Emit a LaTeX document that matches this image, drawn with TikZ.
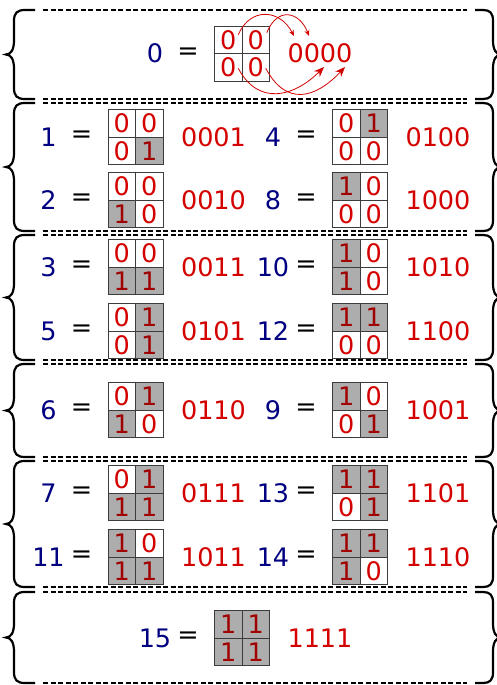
\documentclass[tikz,border=0pt]{standalone}
\usepackage{fontspec}
\setmainfont{DejaVu Sans}
\usetikzlibrary{arrows.meta}
\definecolor{num-blue}{HTML}{000080}
\definecolor{bit-red}{HTML}{D40000}
\definecolor{bit-dark}{HTML}{A00000}
\definecolor{cell-gray}{HTML}{ADADAD}
\definecolor{grid-line}{HTML}{3C3C3C}

\tikzset{
  digits/.style={font=\fontsize{25.5}{27}\selectfont, inner sep=0pt},
  bit0/.style={digits, draw=grid-line, line width=0.9pt, minimum size=27.5pt, text=bit-red},
  bit1/.style={bit0, fill=cell-gray, text=bit-dark},
  grouprule/.style={line width=2pt, dash pattern=on 5pt off 2.5pt},
  bracket/.style={line width=2.2pt},
  bitarrow/.style={-{Stealth[length=6pt,width=5pt]}, bit-red, line width=0.8pt}
}

% number = 2x2 grid  binary
\newcommand{\kmap}[7]{%
  \node[digits, text=num-blue] (n#1) at (#2-87,#3) {#1};
  \node[digits] (eq#1) at (#2-54,#3) {=};
  \node[bit#4] (g#1-tl) at (#2-13.75,#3-13.75) {#4};
  \node[bit#5] (g#1-tr) at (#2+13.75,#3-13.75) {#5};
  \node[bit#6] (g#1-bl) at (#2-13.75,#3+13.75) {#6};
  \node[bit#7] (g#1-br) at (#2+13.75,#3+13.75) {#7};
  \node[digits, text=bit-red] (bin#1) at (#2+78,#3) {#4#5#6#7};
}

\begin{document}
\begin{tikzpicture}[x=1pt, y=-1pt]
  \useasboundingbox (0,0) rectangle (496,685);

  % groups: dashed rules and braces
  \foreach \ya/\yb in {10/99, 103/231, 235/360, 364/457, 461/587, 592/683} {
    \pgfmathsetmacro\ym{(\ya+\yb)/2}
    \draw[grouprule] (43,\ya) -- (467,\ya);
    \draw[grouprule] (43,\yb) -- (467,\yb);
    \draw[bracket] (35,\ya) -- (25,\ya) .. controls (17,\ya) and (14,\ya+3) .. (14,\ya+11)
      -- (14,\ym-14) .. controls (14,\ym-5) and (11,\ym) .. (6,\ym)
      .. controls (11,\ym) and (14,\ym+5) .. (14,\ym+14)
      -- (14,\yb-11) .. controls (14,\yb-3) and (17,\yb) .. (25,\yb) -- (35,\yb);
    \draw[bracket] (475,\ya) -- (483,\ya) .. controls (490,\ya) and (493,\ya+3) .. (493,\ya+11)
      -- (493,\ym-14) .. controls (493,\ym-5) and (496,\ym) .. (501,\ym)
      .. controls (496,\ym) and (493,\ym+5) .. (493,\ym+14)
      -- (493,\yb-11) .. controls (493,\yb-3) and (490,\yb) .. (483,\yb) -- (475,\yb);
  }

  \kmap{0}{242}{53.5}{0}{0}{0}{0}

  \kmap{1}{135.5}{137}{0}{0}{0}{1}
  \kmap{4}{360}{137}{0}{1}{0}{0}
  \kmap{2}{135.5}{200}{0}{0}{1}{0}
  \kmap{8}{360}{200}{1}{0}{0}{0}

  \kmap{3}{135.5}{267}{0}{0}{1}{1}
  \kmap{10}{360}{267}{1}{0}{1}{0}
  \kmap{5}{135.5}{331}{0}{1}{0}{1}
  \kmap{12}{360}{331}{1}{1}{0}{0}

  \kmap{6}{135.5}{410}{0}{1}{1}{0}
  \kmap{9}{360}{410}{1}{0}{0}{1}

  \kmap{7}{135.5}{493}{0}{1}{1}{1}
  \kmap{13}{360}{493}{1}{1}{0}{1}
  \kmap{11}{135.5}{557}{1}{0}{1}{1}
  \kmap{14}{360}{557}{1}{1}{1}{0}

  \kmap{15}{242}{638}{1}{1}{1}{1}

  % reading order of the cells
  \coordinate (d1) at (294,36);
  \coordinate (d2) at (309,36);
  \coordinate (d3) at (324,67);
  \coordinate (d4) at (345,67);
  \draw[bitarrow] ([shift={(10,-5)}]g0-tl.center) .. controls +(12,-28) and +(-14,-27) .. (d1);
  \draw[bitarrow] ([shift={(11,-7)}]g0-tr.center) .. controls +(11,-27) and +(-9,-24) .. (d2);
  \draw[bitarrow, -{Stealth[length=10pt,width=8pt]}] ([shift={(10,1)}]g0-bl.center)
    .. controls +(20,38) and +(-30,30) .. (d3);
  \draw[bitarrow, -{Stealth[length=10pt,width=8pt]}] ([shift={(10,1)}]g0-br.center)
    .. controls +(20,38) and +(-30,32) .. (d4);
\end{tikzpicture}
\end{document}
